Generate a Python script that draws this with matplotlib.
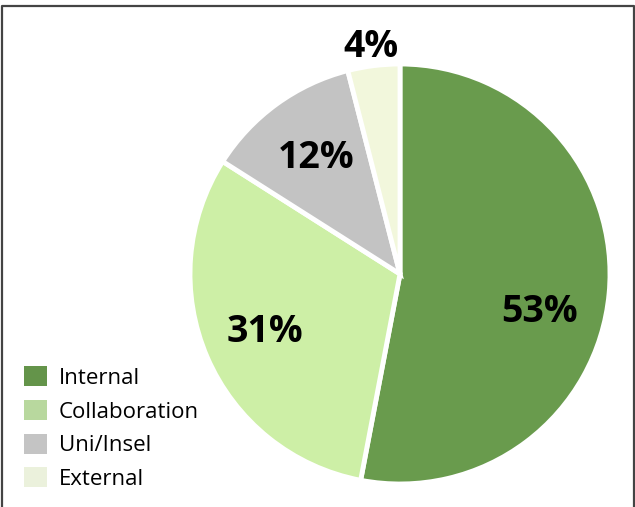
import numpy as np
import matplotlib
matplotlib.use('Agg')
import matplotlib.pyplot as plt
from matplotlib.patches import Patch
from matplotlib.lines import Line2D

plt.rcParams['font.family'] = ['Open Sans', 'DejaVu Sans']

labels = ['Internal', 'Collaboration', 'Uni/Insel', 'External']
shares = [53, 31, 12, 4]
pie_colors = ['#699b4d', '#cdefa6', '#c3c3c3', '#f2f7dc']
legend_colors = ['#64944a', '#b8d89e', '#c4c4c4', '#ebf1dc']
label_dist = [0.69, 0.70, 0.68, 1.09]
label_shift = [-10, 0, 0, 0]  # degrees

fig = plt.figure(figsize=(6.35, 5.07), dpi=100)
W, H = 635, 507
cx, cy, r = 400, 274, 210
ax = fig.add_axes([(cx - r) / W, (H - cy - r) / H, 2 * r / W, 2 * r / H])

wedges, _ = ax.pie(shares, colors=pie_colors, startangle=90, counterclock=False,
                   wedgeprops=dict(edgecolor='white', linewidth=3.5))
ax.set_xlim(-1, 1)
ax.set_ylim(-1, 1)

for w, s, d, sh in zip(wedges, shares, label_dist, label_shift):
    ang = np.deg2rad((w.theta1 + w.theta2) / 2 + sh)
    ax.text(d * np.cos(ang), d * np.sin(ang), f'{s}%', ha='center', va='center',
            fontsize=27, fontweight='bold', color='black')

handles = [Patch(facecolor=c, edgecolor='none') for c in legend_colors]
fig.legend(handles, labels, loc='lower left', bbox_to_anchor=(0.007, -0.006),
           frameon=False, fontsize=16, handlelength=1.0, handleheight=1.0,
           handletextpad=0.55, labelspacing=0.5)

# frame around the figure (bottom edge cut off)
fig.add_artist(Line2D([1.5 / W, 1.5 / W, 633.5 / W, 633.5 / W],
                      [0, 1 - 5.5 / H, 1 - 5.5 / H, 0],
                      color='#444444', linewidth=1.6, transform=fig.transFigure))

fig.savefig('out.png', dpi=100)
